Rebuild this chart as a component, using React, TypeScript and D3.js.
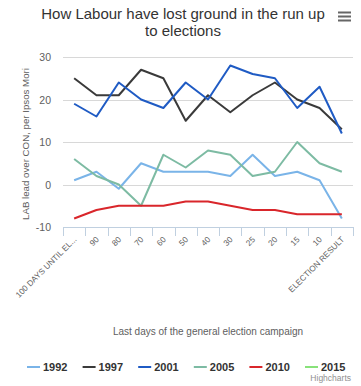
import React, { useRef, useEffect } from 'react';
import * as d3 from 'd3';

const categories = ['100 DAYS UNTIL EL...', '90', '80', '70', '60', '50', '40', '30', '25', '20', '15', '10', 'ELECTION RESULT'];
const years = ['1992', '1997', '2001', '2005', '2010', '2015'];
const colors = ['#7ab4e8', '#3a3a3a', '#1f5bc4', '#7dbba3', '#d9262b', '#88e27a'];
const s1992 = [1, 3, -1, 5, 3, 3, 3, 2, 7, 2, 3, 1, -8];
const s1997 = [25, 21, 21, 27, 25, 15, 21, 17, 21, 24, 20, 18, 13];
const s2001 = [19, 16, 24, 20, 18, 24, 20, 28, 26, 25, 18, 23, 12];
const s2005 = [6, 2, 0, -5, 7, 4, 8, 7, 2, 3, 10, 5, 3];
const s2010 = [-8, -6, -5, -5, -5, -4, -4, -5, -6, -6, -7, -7, -7];
const s2015: number[] = [];
const seriesData = [s1992, s1997, s2001, s2005, s2010, s2015];
const yTicks = [-10, 0, 10, 20, 30];

const W = 361;
const H = 386;
const font = '"Liberation Sans", Arial, sans-serif';

const App: React.FC = () => {
  const svgRef = useRef<SVGSVGElement | null>(null);

  useEffect(() => {
    const svg = d3.select(svgRef.current);
    svg.selectAll('*').remove();

    const x = d3.scaleBand().domain(categories).range([63, 353]).padding(0);
    const y = d3.scaleLinear().domain([-10, 30]).range([227, 57]);

    // title
    const title = svg.append('text')
      .attr('text-anchor', 'middle')
      .style('font-family', font)
      .style('font-size', '15px')
      .style('fill', '#333333');
    title.append('tspan').attr('x', 183).attr('y', 19).text('How Labour have lost ground in the run up');
    title.append('tspan').attr('x', 183).attr('y', 36).text('to elections');

    // menu icon
    [0, 1, 2].forEach(i => {
      svg.append('rect')
        .attr('x', 338).attr('y', 11.5 + i * 4).attr('width', 13).attr('height', 2)
        .attr('fill', '#666666');
    });

    // gridlines
    svg.append('g')
      .selectAll('line')
      .data(yTicks.filter(d => d !== -10))
      .enter()
      .append('line')
      .attr('x1', 63).attr('x2', 353)
      .attr('y1', d => Math.round(y(d)) + 0.5).attr('y2', d => Math.round(y(d)) + 0.5)
      .attr('stroke', '#d8d8d8').attr('stroke-width', 1);

    // y labels
    svg.append('g')
      .selectAll('text')
      .data(yTicks)
      .enter()
      .append('text')
      .attr('x', 51)
      .attr('y', d => y(d) + 4)
      .attr('text-anchor', 'end')
      .style('font-family', font)
      .style('font-size', '10.5px')
      .style('fill', '#606060')
      .text(d => d);

    // y title
    svg.append('text')
      .attr('transform', `translate(29, ${(y(30) + y(-10)) / 2 + 2}) rotate(-90)`)
      .attr('text-anchor', 'middle')
      .style('font-family', font)
      .style('font-size', '9.7px')
      .style('fill', '#606060')
      .text('LAB lead over CON, per Ipsos Mori');

    // x axis
    svg.append('line')
      .attr('x1', 63).attr('x2', 353)
      .attr('y1', 227.5).attr('y2', 227.5)
      .attr('stroke', '#c0d0e0');
    const edges = categories.map(c => x(c) as number).concat([353]);
    svg.append('g')
      .selectAll('line')
      .data(edges)
      .enter()
      .append('line')
      .attr('x1', d => Math.round(d) + 0.5).attr('x2', d => Math.round(d) + 0.5)
      .attr('y1', 227).attr('y2', 236)
      .attr('stroke', '#c0d0e0');

    svg.append('g')
      .selectAll('text')
      .data(categories)
      .enter()
      .append('text')
      .attr('transform', d => `translate(${(x(d) as number) + x.bandwidth() / 2 + 3}, 240) rotate(-45)`)
      .attr('text-anchor', 'end')
      .style('font-family', font)
      .style('font-size', '8.2px')
      .style('fill', '#606060')
      .text(d => d);

    svg.append('text')
      .attr('x', 208).attr('y', 335)
      .attr('text-anchor', 'middle')
      .style('font-family', font)
      .style('font-size', '10px')
      .style('fill', '#606060')
      .text('Last days of the general election campaign');

    // lines
    const line = d3.line<number>()
      .x((d, i) => (x(categories[i]) as number) + x.bandwidth() / 2)
      .y(d => y(d));
    seriesData.forEach((s, k) => {
      if (!s.length) return;
      svg.append('path')
        .datum(s)
        .attr('d', line)
        .attr('fill', 'none')
        .attr('stroke', colors[k])
        .attr('stroke-width', 2)
        .attr('stroke-linejoin', 'round');
    });

    // legend
    const lg = svg.append('g');
    years.forEach((yr, k) => {
      const lx = 27 + k * 55.6;
      lg.append('line')
        .attr('x1', lx).attr('x2', lx + 13)
        .attr('y1', 367).attr('y2', 367)
        .attr('stroke', colors[k]).attr('stroke-width', 2);
      lg.append('text')
        .attr('x', lx + 16).attr('y', 371)
        .style('font-family', font)
        .style('font-size', '11px')
        .style('font-weight', 'bold')
        .style('fill', '#333333')
        .text(yr);
    });

    svg.append('text')
      .attr('x', 351).attr('y', 381)
      .attr('text-anchor', 'end')
      .style('font-family', font)
      .style('font-size', '8.5px')
      .style('fill', '#909090')
      .text('Highcharts');
  }, []);

  return (
    <svg ref={svgRef} width={W} height={H}
      style={{ position: 'absolute', left: 0, top: 0, background: '#ffffff' }} />
  );
};

export default App;
